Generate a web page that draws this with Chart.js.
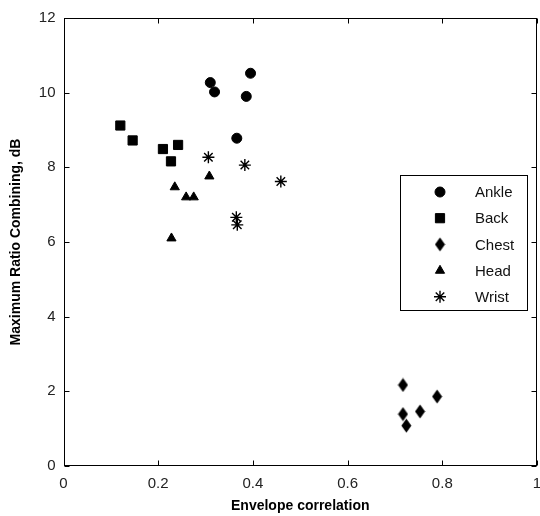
<!DOCTYPE html>
<html>
<head>
<meta charset="utf-8">
<script src="https://cdn.jsdelivr.net/npm/chart.js@4/dist/chart.umd.min.js"></script>
<style>
  body { margin: 0; background: #fff; }
  canvas { display: block; }
</style>
</head>
<body>
<canvas id="chart" width="540" height="516"></canvas>
<script>
// valores
const seriesNames = ['Ankle', 'Back', 'Chest', 'Head', 'Wrist'];
const ankleX = [0.310, 0.319, 0.395, 0.386, 0.366];
const ankleY = [10.27, 10.02, 10.52, 9.90, 8.78];
const backX = [0.120, 0.146, 0.210, 0.242, 0.227];
const backY = [9.12, 8.72, 8.49, 8.60, 8.16];
const chestX = [0.717, 0.789, 0.717, 0.753, 0.724];
const chestY = [2.17, 1.86, 1.39, 1.46, 1.08];
const headX = [0.308, 0.235, 0.259, 0.275, 0.228];
const headY = [7.76, 7.47, 7.20, 7.20, 6.10];
const wristX = [0.306, 0.383, 0.459, 0.365, 0.367];
const wristY = [8.27, 8.06, 7.62, 6.66, 6.46];
const xTicks = [0, 0.2, 0.4, 0.6, 0.8, 1];
const yTicks = [0, 2, 4, 6, 8, 10, 12];

const FONT = 'Liberation Sans, Arial, sans-serif';

function toPoints(xs, ys) {
    return xs.map((x, i) => ({ x: x, y: ys[i] }));
}

// rombo alto como el marcador 'd' de matlab
function makeDiamond() {
    const c = document.createElement('canvas');
    c.width = 11; c.height = 15;
    const g = c.getContext('2d');
    g.fillStyle = '#000';
    g.beginPath();
    g.moveTo(5.5, 0.5);
    g.lineTo(10.5, 7.5);
    g.lineTo(5.5, 14.5);
    g.lineTo(0.5, 7.5);
    g.closePath();
    g.fill();
    return c;
}

const styles = [
    { pointStyle: 'circle', radius: 5, borderWidth: 1 },
    { pointStyle: 'rect', radius: 6.5, borderWidth: 1 },
    { pointStyle: makeDiamond(), radius: 6, borderWidth: 1 },
    { pointStyle: 'triangle', radius: 5.3, borderWidth: 1 },
    { pointStyle: 'star', radius: 6, borderWidth: 1.4 }
];
const allX = [ankleX, backX, chestX, headX, wristX];
const allY = [ankleY, backY, chestY, headY, wristY];

const datasets = seriesNames.map((name, i) => ({
    label: name,
    data: toPoints(allX[i], allY[i]),
    pointStyle: styles[i].pointStyle,
    pointRadius: styles[i].radius,
    pointBorderWidth: styles[i].borderWidth,
    pointBackgroundColor: '#000',
    pointBorderColor: '#000',
    showLine: false
}));

// caja, marcas hacia dentro y leyenda estilo matlab
const matlabFrame = {
    id: 'matlabFrame',
    afterDraw(chart) {
        const ctx = chart.ctx;
        const a = chart.chartArea;
        const xs = chart.scales.x, ys = chart.scales.y;
        const L = Math.round(a.left) + 0.5, R = Math.round(a.right) - 0.5;
        const T = Math.round(a.top) + 0.5, B = Math.round(a.bottom) - 0.5;
        ctx.save();
        ctx.strokeStyle = '#000';
        ctx.lineWidth = 1;
        ctx.strokeRect(L, T, R - L, B - T);
        ctx.beginPath();
        xTicks.forEach(v => {
            const p = Math.round(xs.getPixelForValue(v)) + 0.5;
            ctx.moveTo(p, B); ctx.lineTo(p, B - 5);
            ctx.moveTo(p, T); ctx.lineTo(p, T + 5);
        });
        yTicks.forEach(v => {
            const p = Math.round(ys.getPixelForValue(v)) + 0.5;
            ctx.moveTo(L, p); ctx.lineTo(L + 5, p);
            ctx.moveTo(R, p); ctx.lineTo(R - 5, p);
        });
        ctx.stroke();

        // leyenda
        const bx = 400.5, by = 175.5, bw = 127, bh = 135;
        ctx.fillStyle = '#fff';
        ctx.fillRect(bx, by, bw, bh);
        ctx.strokeRect(bx, by, bw, bh);
        ctx.font = '15px ' + FONT;
        ctx.textBaseline = 'middle';
        ctx.textAlign = 'left';
        seriesNames.forEach((name, i) => {
            const y = 192 + i * 26.2;
            ctx.fillStyle = '#000';
            ctx.strokeStyle = '#000';
            ctx.lineWidth = styles[i].borderWidth;
            Chart.helpers.drawPoint(ctx, {
                pointStyle: styles[i].pointStyle,
                radius: styles[i].radius,
                borderWidth: styles[i].borderWidth,
                rotation: 0
            }, 440, y);
            ctx.fillStyle = '#111';
            ctx.fillText(name, 475, y + 1);
        });
        ctx.restore();
    }
};

new Chart(document.getElementById('chart'), {
    type: 'scatter',
    data: { datasets: datasets },
    options: {
        responsive: false,
        animation: false,
        layout: { autoPadding: false, padding: { top: 18, right: 3, left: 0, bottom: 0 } },
        plugins: { legend: { display: false }, tooltip: { enabled: false } },
        scales: {
            x: {
                type: 'linear', min: 0, max: 1,
                afterFit: s => { s.height = 50; s.paddingRight = 0; s.paddingLeft = 0; },
                afterBuildTicks: s => { s.ticks = xTicks.map(v => ({ value: v })); },
                ticks: {
                    color: '#222', padding: 9,
                    font: { family: FONT, size: 15 },
                    callback: v => String(v)
                },
                grid: { drawOnChartArea: false, drawTicks: false },
                border: { display: false },
                title: {
                    display: true, text: 'Envelope correlation', color: '#000',
                    font: { family: FONT, size: 14, weight: 'bold' },
                    padding: { top: 0, bottom: 1 }
                }
            },
            y: {
                type: 'linear', min: 0, max: 12,
                afterFit: s => { s.width = 63.5; s.paddingTop = 0; s.paddingBottom = 0; },
                afterBuildTicks: s => { s.ticks = yTicks.map(v => ({ value: v })); },
                ticks: {
                    color: '#222', padding: 8,
                    font: { family: FONT, size: 15 }
                },
                grid: { drawOnChartArea: false, drawTicks: false },
                border: { display: false },
                title: {
                    display: true, text: 'Maximum Ratio Combining, dB', color: '#000',
                    font: { family: FONT, size: 14, weight: 'bold' },
                    padding: { top: 8, bottom: 0 }
                }
            }
        }
    },
    plugins: [matlabFrame]
});
</script>
</body>
</html>
